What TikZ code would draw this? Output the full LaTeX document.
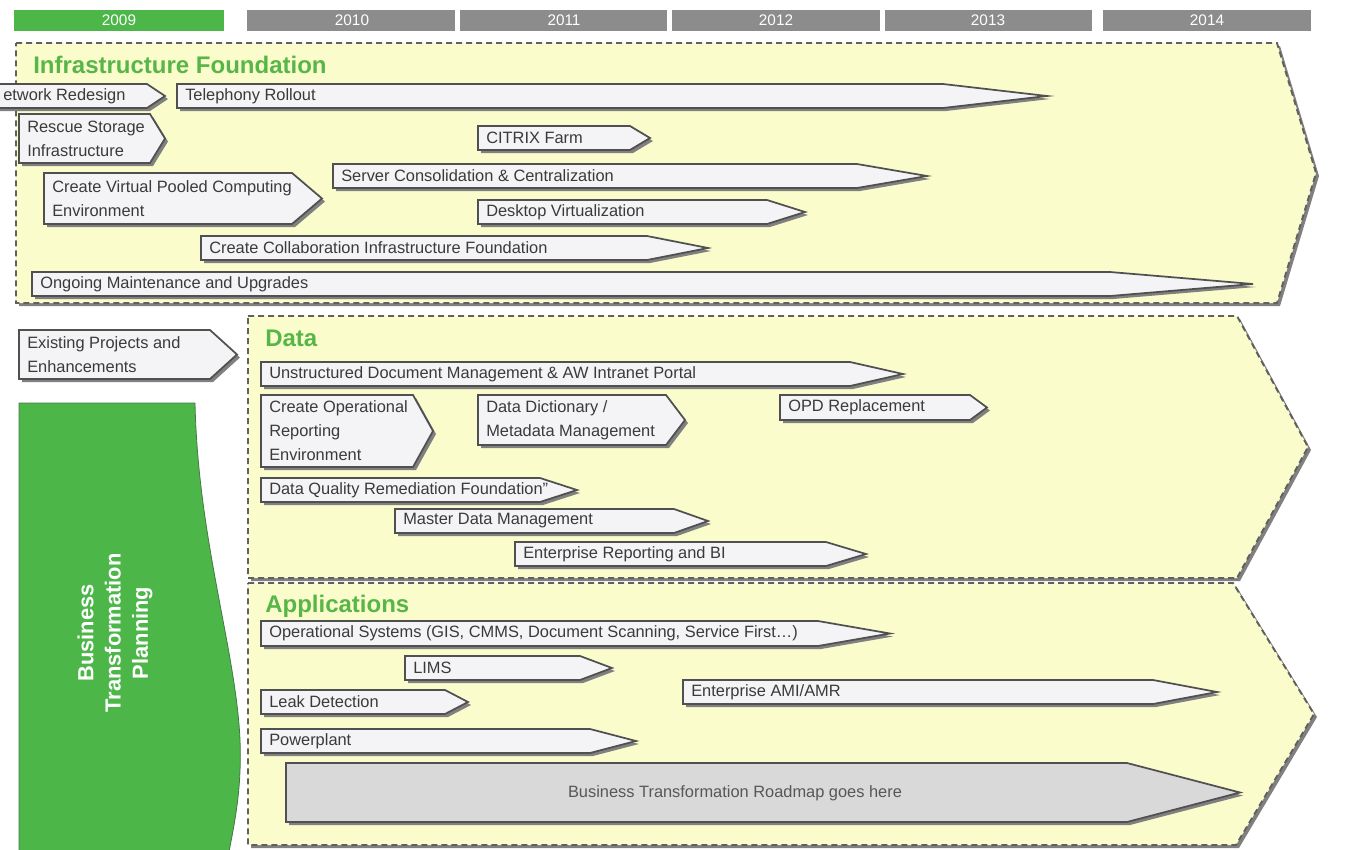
\documentclass[tikz,border=0pt]{standalone}
\usepackage{fontspec}
\setmainfont{Liberation Sans}
\usetikzlibrary{calc}

\definecolor{paneyellow}{RGB}{251,252,204}
\definecolor{panelline}{RGB}{96,96,96}
\definecolor{boxfill}{RGB}{244,244,246}
\definecolor{boxline}{RGB}{80,80,80}
\definecolor{boxshadow}{RGB}{128,128,128}
\definecolor{textgray}{RGB}{58,58,58}
\definecolor{plangreen}{RGB}{76,182,73}
\definecolor{planedge}{RGB}{70,120,70}
\definecolor{titlegreen}{RGB}{88,182,72}
\definecolor{yeargray}{RGB}{140,140,140}
\definecolor{roadgray}{RGB}{217,217,217}

% one task: name, left, top, shoulder, tip, bottom, label
\newcommand\taskarrow[8][]{%
  \pgfmathsetmacro\tmidy{(#4+#7)/2}%
  \fill[arrowshadow] (#3+3,#4+3) -- (#5+3,#4+3) -- (#6+3,\tmidy+3) -- (#5+3,#7+3) -- (#3+3,#7+3) -- cycle;
  \draw[arrowbox,#1] (#3,#4) -- (#5,#4) -- (#6,\tmidy) -- (#5,#7) -- (#3,#7) -- cycle;
  \node[tasktext] (#2) at (#3+8,\tmidy) {#8};
}

\begin{document}
\begin{tikzpicture}[x=0.75pt,y=-0.75pt,
  panel/.style={fill=paneyellow, draw=panelline, line width=1.4pt, dash pattern=on 4.5pt off 3pt},
  panelshadow/.style={fill=boxshadow},
  arrowbox/.style={fill=boxfill, draw=boxline, line width=1.3pt, line join=miter},
  arrowshadow/.style={fill=boxshadow},
  tasktext/.style={anchor=west, inner sep=0pt, text=textgray, align=left,
    font=\fontsize{12.3}{18}\selectfont},
  sectiontitle/.style={anchor=west, inner sep=0pt, text=titlegreen,
    font=\bfseries\fontsize{18}{22}\selectfont},
  yeartext/.style={inner sep=0pt, text=white, font=\fontsize{11.5}{14}\selectfont}]

\useasboundingbox (0,0) rectangle (1347,850);
\clip (0,0) rectangle (1347,850);
\fill[white] (0,0) rectangle (1347,850);

% timeline
\fill[plangreen] (14,10) rectangle (224,31);
\fill[yeargray] (247,10) rectangle (455,31);
\fill[yeargray] (460,10) rectangle (667,31);
\fill[yeargray] (672,10) rectangle (880,31);
\fill[yeargray] (885,10) rectangle (1092,31);
\fill[yeargray] (1103,10) rectangle (1311,31);
\node[yeartext] (y2009) at (119,20.5) {2009};
\node[yeartext] (y2010) at (352,20.5) {2010};
\node[yeartext] (y2011) at (564,20.5) {2011};
\node[yeartext] (y2012) at (776,20.5) {2012};
\node[yeartext] (y2013) at (988,20.5) {2013};
\node[yeartext] (y2014) at (1207,20.5) {2014};

% swim-lane panels
\fill[panelshadow] (19,46) -- (1280,46) -- (1319,176) -- (1280,306) -- (19,306) -- cycle;
\draw[panel] (16,43) -- (1277,43) -- (1316,173) -- (1277,303) -- (16,303) -- cycle;

\fill[panelshadow] (251,319) -- (1240,319) -- (1311,450) -- (1240,581) -- (251,581) -- cycle;
\draw[panel] (248,316) -- (1237,316) -- (1308,447) -- (1237,578) -- (248,578) -- cycle;

\fill[panelshadow] (251,586) -- (1236,586) -- (1317,717) -- (1239,848) -- (251,848) -- cycle;
\draw[panel] (248,583) -- (1233,583) -- (1314,714) -- (1236,845) -- (248,845) -- cycle;

\node[sectiontitle] (infra) at (33,65) {Infrastructure Foundation};
\node[sectiontitle] (data) at (265,338) {Data};
\node[sectiontitle] (apps) at (265,606) {Applications};

% infrastructure tasks (the first one runs in from the left edge)
\taskarrow{net}{-5}{84}{147}{165}{108}{etwork Redesign}
\taskarrow{tel}{177}{84}{943}{1047}{108}{Telephony Rollout}
\taskarrow{rescue}{19}{114}{150}{165}{163}{Rescue Storage\\Infrastructure}
\taskarrow{citrix}{478}{126}{630}{650}{150}{CITRIX Farm}
\taskarrow{vpc}{44}{173}{292}{322}{224}{Create Virtual Pooled Computing\\Environment}
\taskarrow{server}{333}{164}{857}{927}{188}{Server Consolidation \& Centralization}
\taskarrow{desktop}{478}{200}{767}{805}{224}{Desktop Virtualization}
\taskarrow{collab}{201}{236}{647}{708}{260}{Create Collaboration Infrastructure Foundation}
\taskarrow{ongoing}{32}{272}{1110}{1253}{296}{Ongoing Maintenance and Upgrades}

% existing work feeding the lanes
\taskarrow{existing}{19}{330}{210}{237}{379}{Existing Projects and\\Enhancements}

% data tasks
\taskarrow{udm}{261}{362}{850}{903}{386}{Unstructured Document Management \& AW Intranet Portal}
\taskarrow{opreport}{261}{395}{413}{433}{467}{Create Operational\\Reporting\\Environment}
\taskarrow{dict}{478}{395}{666}{685}{445}{Data Dictionary /\\Metadata Management}
\taskarrow{opd}{780}{395}{970}{987}{420}{OPD Replacement}
\taskarrow{dq}{261}{478}{540}{577}{502}{Data Quality Remediation Foundation”}
\taskarrow{mdm}{395}{509}{674}{708}{533}{Master Data Management}
\taskarrow{erbi}{515}{542}{826}{866}{566}{Enterprise Reporting and BI}

% application tasks
\taskarrow{opsys}{261}{621}{818}{890}{646}{Operational Systems (GIS, CMMS, Document Scanning, Service First…)}
\taskarrow{lims}{405}{656}{580}{612}{680}{LIMS}
\taskarrow{ami}{683}{680}{1153}{1217}{704}{Enterprise AMI/AMR}
\taskarrow{leak}{261}{690}{445}{468}{714}{Leak Detection}
\taskarrow{power}{261}{729}{590}{636}{753}{Powerplant}

% roadmap placeholder
\fill[arrowshadow] (289,766) -- (1130,766) -- (1243,795.5) -- (1130,825) -- (289,825) -- cycle;
\draw[arrowbox, fill=roadgray] (286,763) -- (1127,763) -- (1240,792.5) -- (1127,822) -- (286,822) -- cycle;
\node[tasktext, anchor=center, text=textgray!85!white] (roadmap) at (735,793) {Business Transformation Roadmap goes here};

% planning band
\filldraw[fill=plangreen, draw=planedge, line width=0.6pt]
  (19,403) -- (195,403) .. controls (198,540) and (236,650) .. (240,740)
  .. controls (242,790) and (234,825) .. (229,852) -- (19,852) -- cycle;
\node[rotate=90, align=center, text=white, inner sep=0pt,
  font=\bfseries\fontsize{16.4}{20.5}\selectfont] (btp) at (115,633)
  {Business\\Transformation\\Planning};

\end{tikzpicture}
\end{document}
